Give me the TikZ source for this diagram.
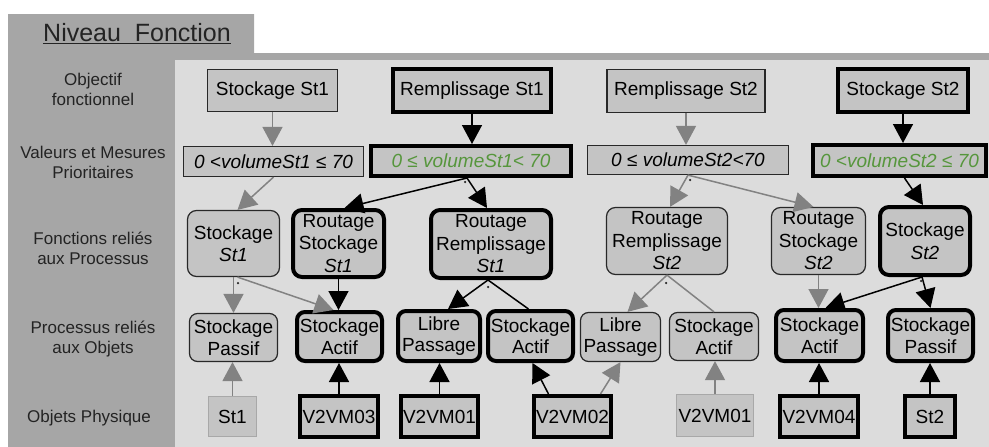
\documentclass[tikz,border=0pt]{standalone}
\usepackage{fontspec}
\setmainfont{Liberation Sans}
\usetikzlibrary{arrows.meta}

\definecolor{bgdark}{RGB}{166,166,166}
\definecolor{panel}{RGB}{220,220,220}
\definecolor{boxfill}{RGB}{196,196,196}
\definecolor{linedark}{RGB}{40,40,40}
\definecolor{offline}{RGB}{168,168,168}
\definecolor{arrowgray}{RGB}{130,130,130}
\definecolor{okgreen}{RGB}{86,150,60}
\definecolor{headtext}{RGB}{35,35,35}

\tikzstyle{goal} = [rectangle, draw=linedark, fill=boxfill, line width=1.2pt, inner sep=0pt, align=center, font=\fontsize{19}{22.5}\selectfont]
\tikzstyle{goalon} = [goal, draw=black, line width=4pt]
\tikzstyle{value} = [goal, font=\fontsize{19}{22.5}\selectfont\itshape]
\tikzstyle{valueon} = [value, draw=black, line width=4pt, text=okgreen]
\tikzstyle{fct} = [goal, rounded corners=9pt]
\tikzstyle{fcton} = [fct, draw=black, line width=4pt]
\tikzstyle{proc} = [goal, rounded corners=8pt, font=\fontsize{19}{21.5}\selectfont]
\tikzstyle{procon} = [proc, draw=black, line width=4pt]
\tikzstyle{phys} = [goal, draw=black, line width=4pt]
\tikzstyle{physoff} = [goal, draw=offline, line width=1.2pt]
\tikzstyle{head} = [align=center, text=headtext, font=\fontsize{17}{20}\selectfont]
\tikzstyle{junction} = [circle, minimum width=2.5pt, fill=linedark, inner sep=0pt]
\tikzstyle{link} = [draw=black, line width=1.5pt, -{Triangle[length=19pt,width=20pt]}]
\tikzstyle{linkoff} = [draw=arrowgray, line width=1.5pt, -{Triangle[length=19pt,width=20pt]}]

\begin{document}
\begin{tikzpicture}[x=1pt, y=-1pt]
\useasboundingbox (0,0) rectangle (989,447);
%achtergrond
\fill[bgdark] (8,14) -- (254,14) -- (254,53) -- (989,53) -- (989,447) -- (8,447) -- cycle;
\fill[panel] (175,60) rectangle (989,447);
\node[text=headtext, font=\fontsize{25}{28}\selectfont] (title) at (137,34) {\underline{Niveau\ \ Fonction}};
%begin koppen
\node[head] (h1) at (93,89) {Objectif\\fonctionnel};
\node[head] (h2) at (93,162) {Valeurs et Mesures\\Prioritaires};
\node[head] (h3) at (93,248) {Fonctions reliés\\aux Processus};
\node[head] (h4) at (93,339) {Processus reliés\\aux Objets};
\node[head] (h5) at (89,418) {Objets Physique};
%end koppen
%begin level1-objectif
\node[goal, minimum width=130, minimum height=42] (o1) at (272.5,90.5) {Stockage St1};
\node[goalon, minimum width=158, minimum height=43] (o2) at (472,90.5) {Remplissage St1};
\node[goal, minimum width=158, minimum height=43] (o3) at (686,91) {Remplissage St2};
\node[goalon, minimum width=130, minimum height=43] (o4) at (903,90.5) {Stockage St2};
%end level1-objectif
%begin level2-valeurs
\node[value, minimum width=180, minimum height=30] (v1) at (273.5,161.5) {0 <volumeSt1 ≤ 70};
\node[valueon, minimum width=200, minimum height=30] (v2) at (471,161) {0 ≤ volumeSt1< 70};
\node[value, minimum width=201, minimum height=29] (v3) at (688,160) {0 ≤ volumeSt2<70};
\node[valueon, minimum width=173, minimum height=31] (v4) at (899.5,160.5) {0 <volumeSt2 ≤ 70};
%end level2-valeurs
%begin level3-fonctions
\node[fct, minimum width=92, minimum height=66] (f1) at (233.5,243.5) {Stockage\\\textit{St1}};
\node[fcton, minimum width=91, minimum height=67] (f2) at (338.5,243.5) {Routage\\Stockage\\\textit{St1}};
\node[fcton, minimum width=120, minimum height=68] (f3) at (491,244) {Routage\\Remplissage\\\textit{St1}};
\node[fct, minimum width=121, minimum height=67] (f4) at (667,241) {Routage\\Remplissage\\\textit{St2}};
\node[fct, minimum width=94, minimum height=67] (f5) at (818.5,241) {Routage\\Stockage\\\textit{St2}};
\node[fcton, minimum width=90, minimum height=68] (f6) at (925,241) {Stockage\\\textit{St2}};
%end level3-fonctions
%begin level4-processus
\node[proc, minimum width=88, minimum height=48] (p1) at (233.5,337.5) {Stockage\\Passif};
\node[procon, minimum width=85, minimum height=49] (p2) at (339.5,336.5) {Stockage\\Actif};
\node[procon, minimum width=82, minimum height=50] (p3) at (439,336) {Libre\\Passage};
\node[procon, minimum width=85, minimum height=50] (p4) at (530.5,336) {Stockage\\Actif};
\node[proc, minimum width=80, minimum height=49] (p5) at (620.5,337) {Libre\\Passage};
\node[proc, minimum width=89, minimum height=48] (p6) at (714,336.5) {Stockage\\Actif};
\node[procon, minimum width=87, minimum height=51] (p7) at (819.5,335.5) {Stockage\\Actif};
\node[procon, minimum width=85, minimum height=51] (p8) at (930.5,335.5) {Stockage\\Passif};
%end level4-processus
%begin level5-objets
\node[physoff, minimum width=48, minimum height=40] (b1) at (232.5,416.5) {St1};
\node[phys, minimum width=78, minimum height=41] (b2) at (339,416.5) {V2VM03};
\node[phys, minimum width=77, minimum height=41] (b3) at (439.5,416.5) {V2VM01};
\node[phys, minimum width=77, minimum height=41] (b4) at (572.5,416.5) {V2VM02};
\node[physoff, minimum width=77, minimum height=42] (b5) at (715,415.5) {V2VM01};
\node[phys, minimum width=78, minimum height=41] (b6) at (819,416.5) {V2VM04};
\node[phys, minimum width=50, minimum height=41] (b7) at (930,416.5) {St2};
%end level5-objets
%begin knooppunten
\node[junction] (j1) at (465,182) {};
\node[junction] (j2) at (690,180) {};
\node[junction] (j3) at (238,283) {};
\node[junction] (j4) at (488,287) {};
\node[junction] (j5) at (666,283) {};
\node[junction] (j6) at (921,281) {};
%end knooppunten
%begin pijlen level1-level2
\draw[linkoff] (o1.south) -- (o1.south |- v1.north);
\draw[link] (o2.south) -- (o2.south |- v2.north);
\draw[linkoff] (o3.south) -- (o3.south |- v3.north);
\draw[link] (o4.south) -- (o4.south |- v4.north);
%end pijlen level1-level2
%begin pijlen level2-level3
\draw[linkoff] (v1.south) -- ([xshift=4]f1.north);
\draw[link] ([xshift=-4]v2.south) -- ([xshift=6]f2.north);
\draw[link] ([xshift=-4]v2.south) -- ([xshift=-4]f3.north);
\draw[linkoff] (v3.south) -- ([xshift=3]f4.north);
\draw[linkoff] (v3.south) -- ([xshift=-5]f5.north);
\draw[link] ([xshift=5]v4.south) -- ([xshift=-2]f6.north);
%end pijlen level2-level3
%begin pijlen level3-level4
\draw[linkoff] (f1.south) -- (f1.south |- p1.north);
\draw[linkoff] ([xshift=4]f1.south) -- ([xshift=-6]p2.north);
\draw[link] (f2.south) -- (f2.south |- p2.north);
\draw[link] ([xshift=-3]f3.south) -- ([xshift=9]p3.north);
\draw[black, line width=1.5pt] ([xshift=-3]f3.south) -- ([xshift=-2]p4.north);
\draw[linkoff] (f4.south) -- ([xshift=7]p5.north);
\draw[arrowgray, line width=1.5pt] (f4.south) -- (p6.north);
\draw[linkoff] (f5.south) -- (f5.south |- p7.north);
\draw[link] ([xshift=-3]f6.south) -- ([xshift=6]p7.north);
\draw[link] ([xshift=-3]f6.south) -- (p8.north);
%end pijlen level3-level4
%begin pijlen level5-level4
\draw[linkoff] (b1.north) -- (b1.north |- p1.south);
\draw[link] (b2.north) -- (b2.north |- p2.south);
\draw[link] (b3.north) -- (b3.north |- p3.south);
\draw[link] ([xshift=-24]b4.north) -- ([xshift=2]p4.south);
\draw[linkoff] ([xshift=28]b4.north) -- (p5.south);
\draw[linkoff] (b5.north) -- (b5.north |- p6.south);
\draw[link] (b6.north) -- (b6.north |- p7.south);
\draw[link] (b7.north) -- (b7.north |- p8.south);
%end pijlen level5-level4
\end{tikzpicture}
\end{document}
